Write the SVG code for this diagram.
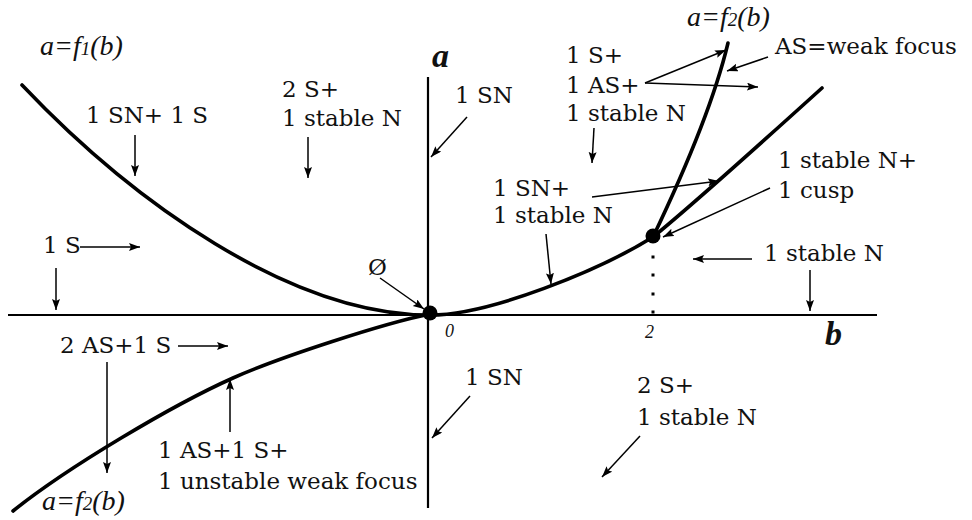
<svg xmlns="http://www.w3.org/2000/svg" width="972" height="520" viewBox="0 0 972 520">
<defs>
<marker id="ah" markerUnits="userSpaceOnUse" markerWidth="12" markerHeight="9" refX="11" refY="4" orient="auto">
<path d="M0,0 L11,4 L0,8 L2,4 Z" fill="#000"/>
</marker>
<style>
.lbl{font-family:"DejaVu Serif","Liberation Serif",serif;font-size:23px;fill:#111}
.it{font-family:"Liberation Serif","Times New Roman",serif;font-style:italic;font-size:28px;fill:#111}
.ax{font-family:"Liberation Serif","Times New Roman",serif;font-style:italic;font-weight:bold;font-size:34px;fill:#111}
.tick{font-family:"Liberation Serif","Times New Roman",serif;font-style:italic;font-size:18px;fill:#111}
.sub{font-size:19px}
.axis{stroke:#000;stroke-width:2.2;fill:none}
.curve{stroke:#000;stroke-width:3.6;fill:none;stroke-linecap:round}
.arr{stroke:#000;stroke-width:1.5;fill:none;marker-end:url(#ah)}
</style>
</defs>
<rect width="972" height="520" fill="#fff"/>

<g id="axes">
<line class="axis" x1="8" y1="315" x2="877" y2="315"/>
<line class="axis" x1="428" y1="77" x2="428" y2="508"/>
<g fill="#000">
<rect x="651.5" y="255.5" width="3" height="3"/>
<rect x="651.5" y="273.5" width="3" height="3"/>
<rect x="651.5" y="292.5" width="3" height="3"/>
<rect x="651.5" y="310.5" width="3" height="3"/>
</g>
</g>

<g id="curves">
<path id="f1-left" class="curve" d="M430,315 C290,315 132,201 22,85"/>
<path id="f1-right" class="curve" d="M430,315 C490,315 600,270 653,237 C690,207 780,126 822,88"/>
<path id="f2-lower" class="curve" d="M430,314 C385,323 280,357 233,378 C173,404.8 68,467 13,511"/>
<path id="f2-upper" class="curve" d="M653,237 C675,191 712,110 728,43"/>
</g>

<g id="points">
<circle id="origin" cx="430" cy="313" r="7.5" fill="#000"/>
<circle id="cusp" cx="653" cy="236" r="7.5" fill="#000"/>
</g>

<g id="connectors">
<line class="arr" x1="135" y1="135" x2="135" y2="176"/>
<line class="arr" x1="308" y1="137" x2="308" y2="178"/>
<line class="arr" x1="467" y1="117" x2="431" y2="157"/>
<line class="arr" x1="645" y1="83" x2="726" y2="50"/>
<line class="arr" x1="645" y1="83" x2="758" y2="87"/>
<line class="arr" x1="768" y1="57" x2="727" y2="71"/>
<line class="arr" x1="594" y1="128" x2="592" y2="163"/>
<line class="arr" x1="592" y1="197" x2="719" y2="181"/>
<line class="arr" x1="546" y1="234" x2="551" y2="284"/>
<line class="arr" x1="770" y1="188" x2="663" y2="237"/>
<line class="arr" x1="752" y1="259" x2="693" y2="259"/>
<line class="arr" x1="810" y1="270" x2="810" y2="311"/>
<line class="arr" x1="80" y1="247" x2="140" y2="247"/>
<line class="arr" x1="56" y1="268" x2="56" y2="310"/>
<line class="arr" x1="178" y1="346" x2="228" y2="346"/>
<line class="arr" x1="107" y1="362" x2="107" y2="473"/>
<line class="arr" x1="230" y1="432" x2="230" y2="379"/>
<line class="arr" x1="470" y1="396" x2="432" y2="438"/>
<line class="arr" x1="640" y1="436" x2="602" y2="477"/>
<line class="arr" x1="380" y1="278" x2="424" y2="309"/>
</g>

<g id="label-f1"><text class="it" x="40" y="55">a=f<tspan class="sub">1</tspan>(b)</text></g>
<g id="label-a"><text class="ax" x="432" y="67">a</text></g>
<g id="label-f2-top"><text class="it" x="687" y="26">a=f<tspan class="sub">2</tspan>(b)</text></g>
<g id="label-weak"><text class="lbl" x="775" y="54">AS=weak focus</text></g>
<g id="region-sn-s"><text class="lbl" x="86" y="123">1 SN+ 1 S</text></g>
<g id="region-2s-top"><text class="lbl" x="282" y="97">2 S+</text><text class="lbl" x="282" y="126">1 stable N</text></g>
<g id="region-sn-top"><text class="lbl" x="455" y="103">1 SN</text></g>
<g id="region-s-as"><text class="lbl" x="566" y="63">1 S+</text><text class="lbl" x="566" y="93">1 AS+</text><text class="lbl" x="566" y="121">1 stable N</text></g>
<g id="region-sn-n"><text class="lbl" x="493" y="196">1 SN+</text><text class="lbl" x="493" y="223">1 stable N</text></g>
<g id="region-cusp"><text class="lbl" x="778" y="168">1 stable N+</text><text class="lbl" x="778" y="198">1 cusp</text></g>
<g id="region-n-right"><text class="lbl" x="764" y="261">1 stable N</text></g>
<g id="region-1s"><text class="lbl" x="43" y="253">1 S</text></g>
<g id="region-empty"><text class="lbl" x="368" y="275">Ø</text></g>
<g id="tick-0"><text class="tick" x="445" y="337">0</text></g>
<g id="tick-2"><text class="tick" x="645" y="338">2</text></g>
<g id="label-b"><text class="ax" x="825" y="345">b</text></g>
<g id="region-2as"><text class="lbl" x="60" y="353">2 AS+1 S</text></g>
<g id="region-sn-bottom"><text class="lbl" x="465" y="385">1 SN</text></g>
<g id="region-2s-bottom"><text class="lbl" x="637" y="393">2 S+</text><text class="lbl" x="637" y="425">1 stable N</text></g>
<g id="region-focus"><text class="lbl" x="158" y="458">1 AS+1 S+</text><text class="lbl" x="158" y="489">1 unstable weak focus</text></g>
<g id="label-f2-bottom"><text class="it" x="42" y="510">a=f<tspan class="sub">2</tspan>(b)</text></g>
</svg>
